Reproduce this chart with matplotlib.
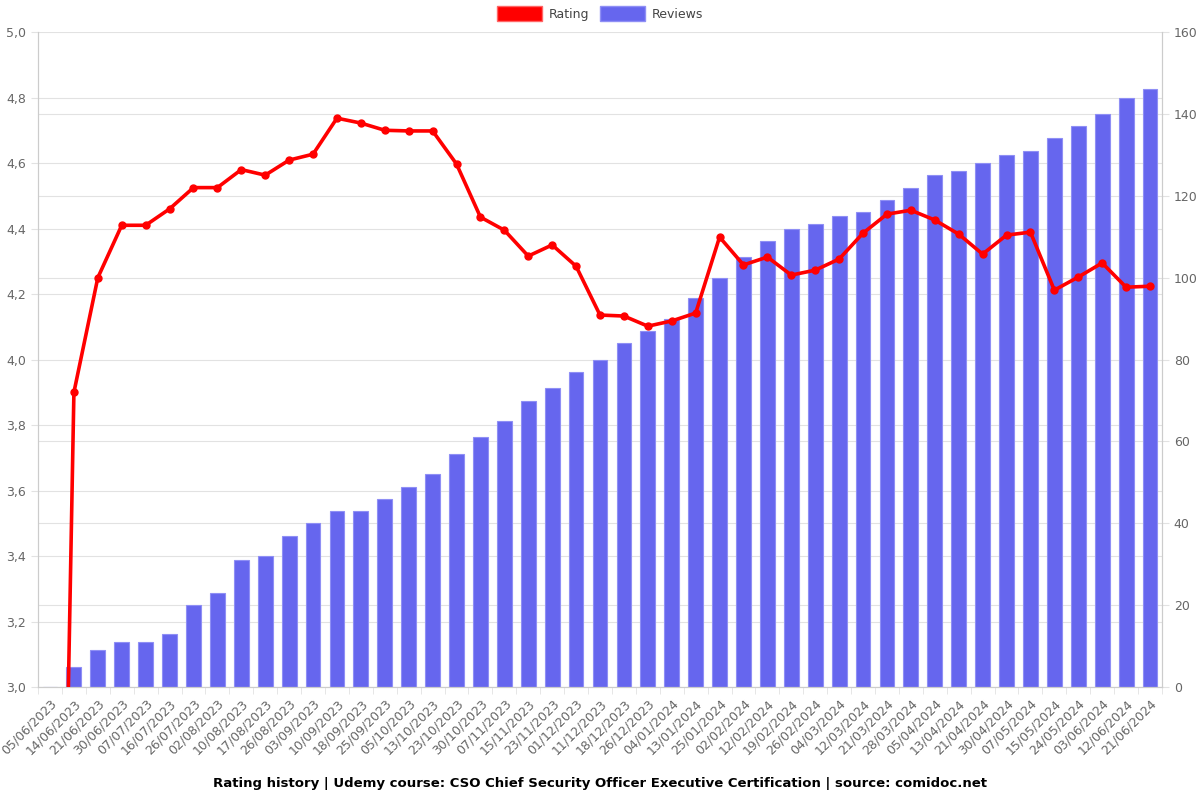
import matplotlib
matplotlib.use('Agg')
import matplotlib.pyplot as plt
import numpy as np
from matplotlib.patches import Patch
from matplotlib.ticker import FuncFormatter

# dates on the x axis
dates = ['05/06/2023', '14/06/2023', '21/06/2023', '30/06/2023', '07/07/2023', '16/07/2023',
         '26/07/2023', '02/08/2023', '10/08/2023', '17/08/2023', '26/08/2023', '03/09/2023',
         '10/09/2023', '18/09/2023', '25/09/2023', '05/10/2023', '13/10/2023', '23/10/2023',
         '30/10/2023', '07/11/2023', '15/11/2023', '23/11/2023', '01/12/2023', '11/12/2023',
         '18/12/2023', '26/12/2023', '04/01/2024', '13/01/2024', '25/01/2024', '02/02/2024',
         '12/02/2024', '19/02/2024', '26/02/2024', '04/03/2024', '12/03/2024', '21/03/2024',
         '28/03/2024', '05/04/2024', '13/04/2024', '21/04/2024', '30/04/2024', '07/05/2024',
         '15/05/2024', '24/05/2024', '03/06/2024', '12/06/2024', '21/06/2024']

rating = [0, 3.90, 4.25, 4.41, 4.41, 4.46, 4.525, 4.525, 4.58, 4.563, 4.609, 4.627,
          4.737, 4.722, 4.70, 4.698, 4.698, 4.597, 4.435, 4.395, 4.316, 4.35, 4.285, 4.136,
          4.133, 4.102, 4.118, 4.142, 4.374, 4.289, 4.313, 4.258, 4.273, 4.307, 4.386, 4.444,
          4.456, 4.426, 4.383, 4.322, 4.38, 4.389, 4.212, 4.252, 4.295, 4.221, 4.224]

reviews = [0, 5, 9, 11, 11, 13, 20, 23, 31, 32, 37, 40, 43, 43, 46, 49, 52, 57, 61, 65,
           70, 73, 77, 80, 84, 87, 90, 95, 100, 105, 109, 112, 113, 115, 116, 119, 122,
           125, 126, 128, 130, 131, 134, 137, 140, 144, 146]

red = '#ff0000'
blue = '#6666ee'
grid_c = '#e2e2e2'
txt_c = '#666666'

x = np.arange(len(dates))

fig = plt.figure(figsize=(12, 8), dpi=100)
ax = fig.add_axes([0.0317, 0.141, 0.9366, 0.819])
ax2 = ax.twinx()

# bars on the right axis, behind the line; all grids drawn here so bars cover them
ax2.set_axisbelow(True)
ax2.bar(x, reviews, width=0.62, color=blue, edgecolor='#8f8ff5', linewidth=0.8, zorder=2)
ax2.set_ylim(0, 160)
ax2.set_yticks(np.arange(0, 161, 20))
ax2.set_yticks(np.arange(0, 161, 16), minor=True)   # rating grid (0.2 steps)
ax2.grid(axis='y', which='both', color=grid_c, linewidth=0.8)
ax2.tick_params(axis='y', which='major', colors=txt_c, labelsize=9, length=5, color=grid_c)
ax2.tick_params(axis='y', which='minor', length=0)
ax2.set_xticks(np.arange(-0.5, len(dates), 1), minor=True)
ax2.grid(axis='x', which='minor', color=grid_c, linewidth=0.8)

ax.set_zorder(ax2.get_zorder() + 1)
ax.patch.set_visible(False)
ax.plot(x, rating, color=red, linewidth=2.6, marker='o', markersize=5, zorder=5)
ax.set_ylim(3.0, 5.0)
ax.set_yticks(np.arange(3.0, 5.01, 0.2))
ax.yaxis.set_major_formatter(FuncFormatter(lambda v, p: ('%.1f' % v).replace('.', ',')))
ax.tick_params(axis='y', colors=txt_c, labelsize=9, length=5, color=grid_c)

ax.set_xlim(-0.5, len(dates) - 0.5)
ax.set_xticks(x)
ax.set_xticklabels(dates, rotation=45, ha='right', rotation_mode='anchor', color=txt_c, fontsize=9)
ax.tick_params(axis='x', length=0, pad=7)
ax.set_xticks(np.arange(-0.5, len(dates), 1), minor=True)
ax.tick_params(axis='x', which='minor', length=5, color=grid_c)

for a in (ax, ax2):
    for s in a.spines.values():
        s.set_color('#cccccc')
    a.spines['top'].set_visible(False)

handles = [Patch(facecolor=red, edgecolor='#ff6666', label='Rating'),
           Patch(facecolor=blue, edgecolor='#8f8ff5', label='Reviews')]
fig.legend(handles=handles, loc='upper center', bbox_to_anchor=(0.5, 1.006), ncol=2,
           frameon=False, fontsize=9, handlelength=3.6, handleheight=1.45, columnspacing=0.9,
           handletextpad=0.5, labelcolor='#444444')

fig.text(0.5, 0.013, 'Rating history | Udemy course: CSO Chief Security Officer Executive Certification | source: comidoc.net',
         ha='center', va='bottom', fontsize=9.5, fontweight='bold')

plt.savefig('out.png', dpi=100)
